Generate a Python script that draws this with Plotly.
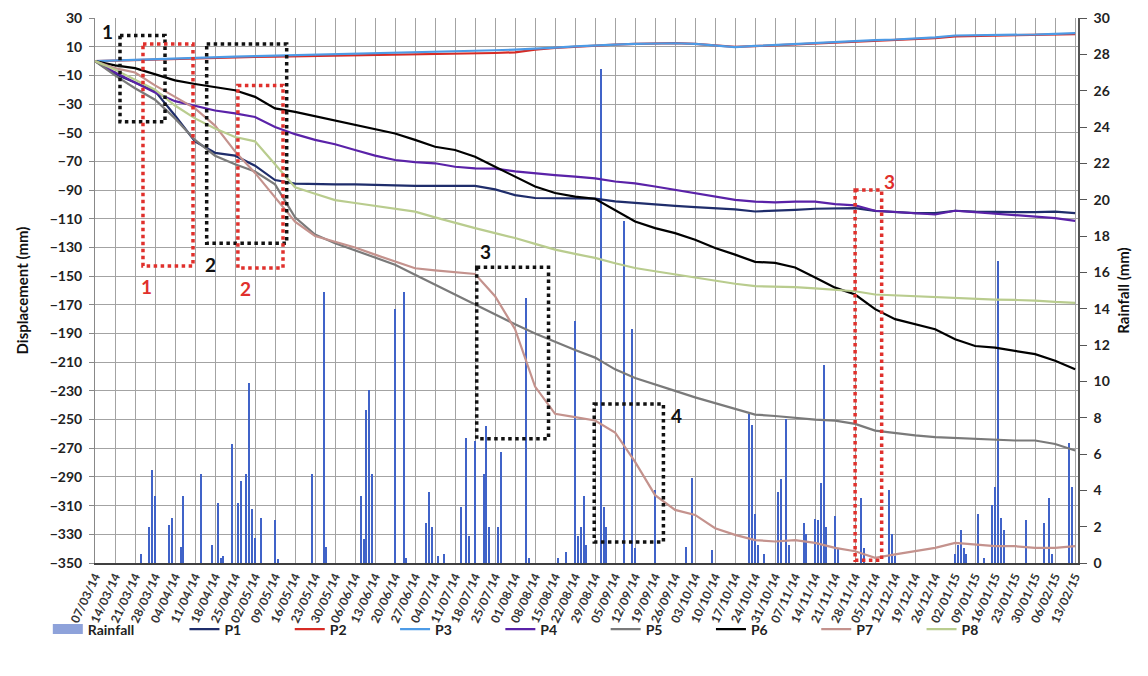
import plotly.graph_objects as go

# ---------------- data ----------------
weeks = ["2014-03-07", "2014-03-14", "2014-03-21", "2014-03-28", "2014-04-04", "2014-04-11",
         "2014-04-18", "2014-04-25", "2014-05-02", "2014-05-09", "2014-05-16", "2014-05-23",
         "2014-05-30", "2014-06-06", "2014-06-13", "2014-06-20", "2014-06-27", "2014-07-04",
         "2014-07-11", "2014-07-18", "2014-07-25", "2014-08-01", "2014-08-08", "2014-08-15",
         "2014-08-22", "2014-08-29", "2014-09-05", "2014-09-12", "2014-09-19", "2014-09-26",
         "2014-10-03", "2014-10-10", "2014-10-17", "2014-10-24", "2014-10-31", "2014-11-07",
         "2014-11-14", "2014-11-21", "2014-11-28", "2014-12-05", "2014-12-12", "2014-12-19",
         "2014-12-26", "2015-01-02", "2015-01-09", "2015-01-16", "2015-01-23", "2015-01-30",
         "2015-02-06", "2015-02-13"]

P1 = [0, -9, -15, -21, -38, -56, -64, -66, -73, -83,
      -85.5, -86, -86, -86, -86.5, -86.5, -87, -87, -87, -87,
      -89.5, -93.5, -95.5, -95.5, -95.5, -96, -97.8, -99, -100.3, -101,
      -101.8, -102.4, -103.5, -104.9, -104.5, -103.8, -103, -102.6, -102.6, -104.5,
      -105.5, -106, -106, -104.4, -105, -105.4, -105.4, -105.4, -105, -106]
P2 = [0, 0.4, 0.8, 1.2, 1.6, 2, 2.3, 2.6, 2.8, 3,
      3.2, 3.4, 3.6, 3.8, 4, 4.2, 4.4, 4.6, 4.9, 5.2,
      5.6, 6.1, 8, 9.2, 10.1, 10.9, 11.5, 12, 12.3, 12.5,
      12, 11, 9.8, 10.4, 11, 11.6, 12.3, 13, 13.7, 14.2,
      14.6, 15.3, 16, 17.2, 17.4, 17.6, 17.8, 18.1, 18.5, 18.8]
P3 = [0, 0.5, 1, 1.5, 2, 2.5, 2.8, 3.1, 3.4, 3.7,
      4, 4.3, 4.6, 4.9, 5.2, 5.5, 5.8, 6.2, 6.5, 7,
      7.5, 8, 8.5, 9.3, 10.2, 11, 11.5, 12, 12.2, 12.4,
      12, 11, 9.7, 10.5, 11.2, 11.8, 12.5, 13.3, 14.2, 14.6,
      15, 15.7, 16.5, 17.8, 17.9, 18, 18.2, 18.5, 19, 19.5]
P4 = [0, -8, -15, -22, -28, -31.5, -34.5, -36.5, -39, -46,
      -51, -55, -58, -62, -66, -69, -70.5, -71.3, -73.7, -74.8,
      -75, -77, -78.4, -79.5, -80.6, -81.8, -84, -85.3, -87.5, -89.9,
      -92.2, -94.5, -96.8, -98, -98.5, -98, -98, -99.8, -100.7, -104.4,
      -105.4, -106, -107, -104.4, -105.4, -106.8, -107.7, -108.4, -109.5, -111.4]
P5 = [0, -10, -19, -27, -40, -55, -66, -72, -77, -86,
      -109, -121, -127, -132, -137, -142, -149, -156, -163, -169.7,
      -177, -183.6, -190, -196, -201.5, -206.8, -215, -221, -225.3, -230,
      -234.5, -238.5, -242.5, -246.5, -247.5, -249, -250, -250.7, -253, -257.7,
      -259.5, -261, -262.3, -263, -263.4, -264, -264.6, -264.6, -267, -271.6]
P6 = [0, -3, -5, -9, -13.5, -16, -18, -20.4, -25, -33,
      -35.5, -38.5, -41, -44, -47, -50.5, -55, -59.8, -62, -66.7,
      -73.7, -80.6, -87.5, -92, -94.5, -96, -103.8, -111.9, -116.5, -120,
      -124.6, -130.4, -135, -140, -140.8, -144, -151, -158, -162.8, -173,
      -180, -183.6, -187, -194, -198.7, -199.8, -202, -204.4, -209, -214.9]
P7 = [0, -5, -8, -17, -25, -33, -45, -63, -78, -95,
      -112, -122, -126, -130, -135, -140, -144.5, -146, -147, -148.5,
      -164, -187, -227, -246, -248.3, -250.6, -259, -279.5, -302.7, -313,
      -316.5, -325.8, -330.4, -334, -335, -334, -336, -339.5, -341.8, -346.4,
      -344, -341.8, -339.5, -336, -337, -338.3, -338.3, -339.5, -339.5, -338.3]
P8 = [0, -6, -13, -20, -31, -40, -47, -53, -56, -72,
      -88, -92.5, -97, -99, -101, -103, -105, -109, -113, -116.5,
      -120, -123.4, -127.5, -131.5, -134.5, -137.3, -141, -144.3, -146.6, -148.9,
      -151.2, -153.5, -155.3, -157, -157.3, -157.7, -158.5, -159.3, -160.5, -162.8,
      -163.4, -164, -164.8, -165.6, -166, -166.3, -166.6, -167, -168, -168.6]

rain_dates = ["2014-03-23", "2014-03-26", "2014-03-27", "2014-03-28", "2014-04-02", "2014-04-03",
              "2014-04-06", "2014-04-07", "2014-04-13", "2014-04-17", "2014-04-19", "2014-04-20",
              "2014-04-21", "2014-04-24", "2014-04-26", "2014-04-27", "2014-04-29", "2014-04-30",
              "2014-05-01", "2014-05-02", "2014-05-04", "2014-05-09", "2014-05-10", "2014-05-22",
              "2014-05-26", "2014-05-27", "2014-06-08", "2014-06-09", "2014-06-10", "2014-06-11",
              "2014-06-12", "2014-06-20", "2014-06-23", "2014-06-24", "2014-07-01", "2014-07-02",
              "2014-07-03", "2014-07-05", "2014-07-07", "2014-07-13", "2014-07-15", "2014-07-16",
              "2014-07-18", "2014-07-21", "2014-07-22", "2014-07-23", "2014-07-26", "2014-07-27",
              "2014-08-05", "2014-08-06", "2014-08-16", "2014-08-19", "2014-08-22", "2014-08-23",
              "2014-08-24", "2014-08-25", "2014-08-26", "2014-08-31", "2014-09-01", "2014-09-02",
              "2014-09-08", "2014-09-11", "2014-09-12", "2014-09-19", "2014-09-30", "2014-10-02",
              "2014-10-09", "2014-10-22", "2014-10-23", "2014-10-24", "2014-10-25", "2014-10-27",
              "2014-11-01", "2014-11-02", "2014-11-04", "2014-11-05", "2014-11-10", "2014-11-11",
              "2014-11-14", "2014-11-15", "2014-11-16", "2014-11-17", "2014-11-18", "2014-11-21",
              "2014-11-22", "2014-11-30", "2014-12-01", "2014-12-10", "2014-12-11", "2014-12-12",
              "2015-01-02", "2015-01-03", "2015-01-04", "2015-01-05", "2015-01-06", "2015-01-10",
              "2015-01-12", "2015-01-15", "2015-01-16", "2015-01-17", "2015-01-18", "2015-01-19",
              "2015-01-27", "2015-02-02", "2015-02-04", "2015-02-05", "2015-02-11", "2015-02-12"]
rain_mm = [0.5, 2.0, 5.1, 3.7, 2.1, 2.5,
           0.9, 3.7, 4.9, 1.0, 3.3, 0.3,
           0.4, 6.55, 3.3, 4.5, 4.9, 9.9,
           3.0, 1.4, 2.5, 2.35, 0.2, 4.9,
           14.9, 0.9, 3.7, 1.3, 8.4, 9.5,
           4.9, 14.0, 14.9, 0.3, 2.2, 3.9,
           2.0, 0.4, 0.5, 3.1, 6.9, 1.5,
           6.7, 4.9, 7.55, 2.0, 2.0, 6.1,
           14.6, 0.3, 0.3, 0.6, 13.3, 1.5,
           2.0, 3.7, 1.0, 27.2, 3.1, 2.0,
           18.8, 12.9, 0.8, 4.0, 0.9, 4.7,
           0.7, 8.2, 7.6, 2.7, 1.0, 0.5,
           3.9, 4.6, 7.9, 1.0, 2.2, 1.6,
           2.4, 2.35, 4.4, 10.9, 2.0, 2.6,
           0.8, 3.6, 0.8, 4.0, 1.6, 0.4,
           0.5, 1.0, 1.8, 0.8, 0.5, 2.7,
           0.3, 3.2, 4.2, 16.6, 2.5, 1.8,
           2.35, 2.2, 3.6, 0.5, 6.6, 4.2]

series = [("P1", P1, "#1f2d6b"), ("P2", P2, "#d62b25"), ("P3", P3, "#4d9be6"),
          ("P4", P4, "#5a22a8"), ("P5", P5, "#7a7a7a"), ("P6", P6, "#000000"),
          ("P7", P7, "#c4928d"), ("P8", P8, "#b9cc8e")]

FONT = "Lato"
DAY_MS = 86400000

fig = go.Figure()

fig.add_trace(go.Bar(x=rain_dates, y=rain_mm, yaxis="y", width=0.42 * DAY_MS,
                     marker=dict(color="#4063c8", line=dict(width=0)),
                     name="Rainfall", showlegend=False))
# legend swatch for rainfall
fig.add_trace(go.Scatter(x=[None], y=[None], yaxis="y", mode="lines",
                         line=dict(color="#8ea2da", width=12),
                         name="Rainfall", legend="legend"))

for name, vals, color in series:
    fig.add_trace(go.Scatter(x=weeks, y=vals, yaxis="y2", mode="lines",
                             line=dict(color=color, width=2.2), name=name,
                             legend="legend2"))

BLACK = "#111111"
RED = "#e0302c"
boxes = [
    ("2014-03-15 18:00", "2014-03-31 12:00", 17.8, -42.4, BLACK),
    ("2014-03-23 19:00", "2014-04-10 07:00", 11.9, -143, RED),
    ("2014-04-15 02:00", "2014-05-13 02:00", 11.9, -127, BLACK),
    ("2014-04-26 00:00", "2014-05-11 19:00", -17, -144.3, RED),
    ("2014-07-18 14:00", "2014-08-12 17:00", -143.8, -263.3, BLACK),
    ("2014-08-28 17:00", "2014-09-21 22:00", -239.2, -335.3, BLACK),
    ("2014-11-28 00:00", "2014-12-07 07:00", -89.9, -348, RED),
]
for x0, x1, y0, y1, c in boxes:
    fig.add_shape(type="rect", xref="x", yref="y2", x0=x0, x1=x1, y0=y0, y1=y1,
                  line=dict(color=c, width=3.5, dash="dot"), fillcolor="rgba(0,0,0,0)")

labels = [
    ("2014-03-11 12:00", 20.5, "1", BLACK),
    ("2014-03-25 00:00", -157, "1", RED),
    ("2014-04-16 12:00", -141.7, "2", BLACK),
    ("2014-04-28 12:00", -158.4, "2", RED),
    ("2014-07-21 12:00", -132.7, "3", BLACK),
    ("2014-09-26 12:00", -247, "4", BLACK),
    ("2014-12-10 00:00", -84, "3", RED),
]
for x, y, t, c in labels:
    fig.add_annotation(x=x, y=y, xref="x", yref="y2", text=t, showarrow=False,
                       font=dict(family=FONT, size=19, color=c, weight="bold"))

grid = "#a3a3a3"
fig.update_layout(
    width=1140, height=668,
    margin=dict(l=87, r=70, t=10, b=113, autoexpand=False),
    paper_bgcolor="white", plot_bgcolor="white",
    font=dict(family=FONT, color="#222222"),
    bargap=0,
    xaxis=dict(type="date", range=["2014-03-07", "2015-02-14"],
               tickvals=weeks, tickformat="%d/%m/%y", tickangle=-65,
               tickfont=dict(family=FONT, size=12, color="#333333", weight="bold"),
               showgrid=True, gridcolor=grid, gridwidth=1,
               showline=True, linecolor="#404040", linewidth=2,
               ticks="", zeroline=False, automargin=False),
    yaxis=dict(side="right", range=[0, 30], tick0=0, dtick=2,
               showgrid=False, zeroline=False, automargin=False,
               ticklabeloverflow="allow",
               showline=True, linecolor="#555555", linewidth=1.5,
               ticks="outside", ticklen=7, tickcolor="#555555", ticklabelstandoff=4,
               tickfont=dict(family=FONT, size=14, color="#222222", weight="bold"),
               title=dict(text="Rainfall (mm)", standoff=10,
                          font=dict(family=FONT, size=15, color="#111111", weight="bold"))),
    yaxis2=dict(overlaying="y", side="left", range=[-350, 30], tick0=-350, dtick=20,
                showgrid=True, gridcolor=grid, gridwidth=1, zeroline=False, automargin=False,
                ticklabeloverflow="allow",
                showline=True, linecolor="#888888", linewidth=1,
                ticks="outside", ticklen=5, tickcolor="#888888", ticklabelstandoff=4,
                tickfont=dict(family=FONT, size=14, color="#222222", weight="bold"),
                title=dict(text="Displacement (mm)", standoff=17,
                           font=dict(family=FONT, size=15, color="#111111", weight="bold"))),
    legend=dict(orientation="h", x=-0.048, xanchor="left", y=-0.122, yanchor="middle",
                font=dict(family=FONT, size=14, color="#222222", weight="bold"),
                bgcolor="rgba(0,0,0,0)"),
    legend2=dict(orientation="h", x=0.091, xanchor="left", y=-0.122, yanchor="middle",
                 entrywidth=60.3, entrywidthmode="pixels",
                 font=dict(family=FONT, size=14, color="#222222", weight="bold"),
                 bgcolor="rgba(0,0,0,0)"),
)

fig.write_html("out.html")
